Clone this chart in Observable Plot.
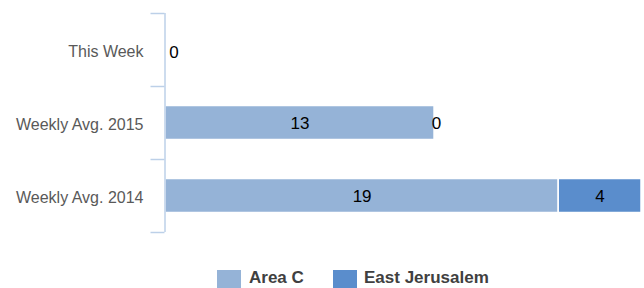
<!DOCTYPE html>
<html>
<head>
<meta charset="utf-8">
<script src="https://cdn.jsdelivr.net/npm/d3@7"></script>
<script src="https://cdn.jsdelivr.net/npm/@observablehq/plot@0.6"></script>
<style>
  html, body { margin: 0; padding: 0; background: #fff; }
  #wrap { position: relative; width: 644px; height: 288px; overflow: hidden; font-family: "Liberation Sans", Arial, sans-serif; }
  #legend { position: absolute; left: 0; top: 269px; width: 644px; height: 19px; }
  .sw { position: absolute; top: 1px; width: 24px; height: 19px; }
  .lt { position: absolute; top: 0px; font-weight: bold; font-size: 17px; color: #404040; line-height: 18px; }
</style>
</head>
<body>
<div id="wrap"><div id="chart"></div><div id="legend"></div></div>
<script>
const categories = ["This Week", "Weekly Avg. 2015", "Weekly Avg. 2014"];
const seriesNames = ["Area C", "East Jerusalem"];
const areaC = [0, 13, 19];
const eastJerusalem = [0, 0, 4];
const colors = ["#95b3d7", "#5a8dcc"];

const data = [];
categories.forEach((c, i) => {
  data.push({cat: c, series: seriesNames[0], value: areaC[i]});
  data.push({cat: c, series: seriesNames[1], value: eastJerusalem[i]});
});

// labels: one per segment, skipping a duplicate zero at the same position
const labels = [];
categories.forEach((c, i) => {
  let start = 0;
  const vals = [areaC[i], eastJerusalem[i]];
  const seen = new Set();
  vals.forEach((v) => {
    const mid = start + v / 2;
    if (!seen.has(mid)) {
      labels.push({cat: c, x: mid, text: String(v), zero: v === 0, atStart: start === 0});
      seen.add(mid);
    }
    start += v;
  });
});

const W = 644, H = 258;
const frameTop = 13, frameBottom = 232;
const frameLeft = 151, axisX = 165, frameRight = 641;
const xmax = 23;
const pxPerUnit = (frameRight - axisX) / xmax;
const xmin = -(axisX - frameLeft) / pxPerUnit;
const step = (frameBottom - frameTop) / categories.length;
const barH = 34;
const inset = (step - barH) / 2;
const axisColor = "#bcd0e8";
const labelStyle = {x: "x", y: "cat", text: "text", fontSize: 17, fill: "#000", textAnchor: "middle", dy: 1};

const plot = Plot.plot({
  width: W,
  height: H,
  marginLeft: frameLeft,
  marginRight: W - frameRight,
  marginTop: frameTop,
  marginBottom: H - frameBottom,
  style: { fontFamily: "Liberation Sans, Arial, sans-serif", background: "#fff" },
  x: { domain: [xmin, xmax], axis: null },
  y: { domain: categories, padding: 0, axis: null },
  color: { domain: seriesNames, range: colors },
  marks: [
    Plot.barX(data, Plot.stackX({x: "value", y: "cat", fill: "series", insetTop: inset, insetBottom: inset, stroke: "#fff", strokeWidth: 1.5})),
    Plot.ruleX([0], {stroke: axisColor, strokeWidth: 1.5, dx: -0.5}),
    Plot.ruleY(categories, {y: d => d, x1: xmin, x2: 0, dy: -step / 2, dx: -0.5, stroke: axisColor, strokeWidth: 1.5}),
    Plot.ruleY(categories.slice(-1), {y: d => d, x1: xmin, x2: 0, dy: step / 2, dx: -0.5, stroke: axisColor, strokeWidth: 1.5}),
    Plot.axisY({tickSize: 0, tickPadding: 8, fontSize: 16, fill: "#595959", label: null, anchor: "left", dy: 2}),
    Plot.text(labels.filter(d => !d.zero), labelStyle),
    Plot.text(labels.filter(d => d.zero && d.atStart), {...labelStyle, dx: 8.5, dy: 3}),
    Plot.text(labels.filter(d => d.zero && !d.atStart), {...labelStyle, dx: 2})
  ]
});
document.getElementById("chart").appendChild(plot);

const legend = document.getElementById("legend");
const legendPos = [[217, 249], [333, 364]];
seriesNames.forEach((s, i) => {
  const sw = document.createElement("div");
  sw.className = "sw";
  sw.style.left = legendPos[i][0] + "px";
  sw.style.background = colors[i];
  legend.appendChild(sw);
  const t = document.createElement("div");
  t.className = "lt";
  t.style.left = legendPos[i][1] + "px";
  t.textContent = s;
  legend.appendChild(t);
});
</script>
</body>
</html>
